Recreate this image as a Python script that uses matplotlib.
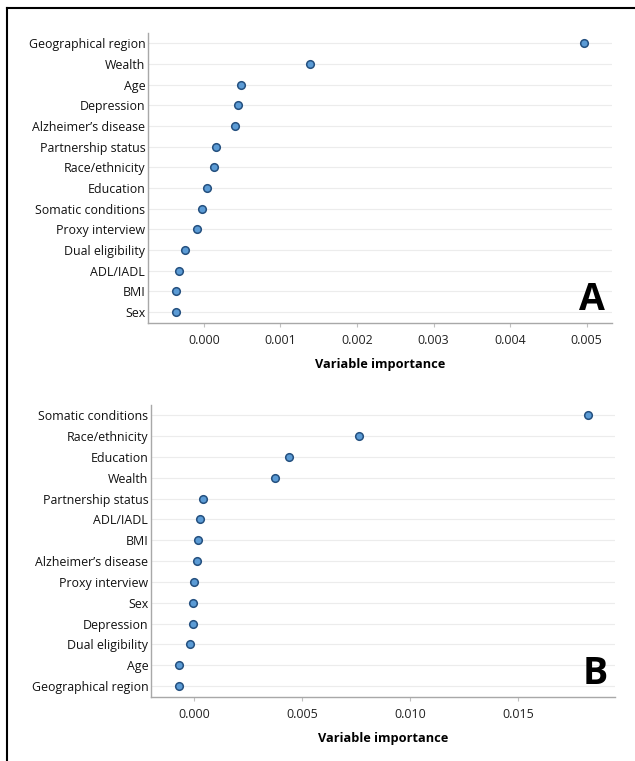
import matplotlib
matplotlib.use("Agg")
from matplotlib import pyplot as plt
from matplotlib.lines import Line2D

plt.rcParams["font.family"] = ["Open Sans", "DejaVu Sans"]

# panel A, listed top to bottom
labels_a = [
    "Geographical region", "Wealth", "Age", "Depression", "Alzheimer\u2019s disease",
    "Partnership status", "Race/ethnicity", "Education", "Somatic conditions",
    "Proxy interview", "Dual eligibility", "ADL/IADL", "BMI", "Sex",
]
values_a = [
    0.00496, 0.00138, 0.00049, 0.00045, 0.00041, 0.00016, 0.00013,
    0.00004, -0.00002, -0.00009, -0.00025, -0.00032, -0.00036, -0.00037,
]
ticks_a = [0.000, 0.001, 0.002, 0.003, 0.004, 0.005]

# panel B, listed top to bottom
labels_b = [
    "Somatic conditions", "Race/ethnicity", "Education", "Wealth",
    "Partnership status", "ADL/IADL", "BMI", "Alzheimer\u2019s disease",
    "Proxy interview", "Sex", "Depression", "Dual eligibility", "Age",
    "Geographical region",
]
values_b = [
    0.01824, 0.00764, 0.00440, 0.00375, 0.00042, 0.00028, 0.00019,
    0.00014, 0.00000, -0.00003, -0.00005, -0.00018, -0.00070, -0.00070,
]
ticks_b = [0.000, 0.005, 0.010, 0.015]


def draw_panel(ax, labels, values, ticks, xlim, letter):
    n = len(labels)
    ypos = list(range(n - 1, -1, -1))
    for y in ypos:
        ax.axhline(y, color="#ececec", linewidth=0.8, zorder=0)
    ax.scatter(values, ypos, s=30, color="#5b9bd5", edgecolors="#24507f",
               linewidths=1.1, zorder=3)
    ax.set_yticks(ypos)
    ax.set_yticklabels(labels, fontsize=8.9, color="#111111")
    ax.set_ylim(-0.53, n - 1 + 0.5)
    ax.set_xlim(*xlim)
    ax.set_xticks(ticks)
    ax.set_xticklabels([f"{t:.3f}" for t in ticks], fontsize=8.9, color="#222222")
    ax.tick_params(axis="y", length=0, pad=2)
    ax.tick_params(axis="x", length=3, direction="out", color="#c0c0c0", pad=5)
    for side in ("top", "right"):
        ax.spines[side].set_visible(False)
    for side in ("left", "bottom"):
        ax.spines[side].set_color("#a8a8a8")
        ax.spines[side].set_linewidth(1.0)
    ax.set_xlabel("Variable importance", fontsize=9.2, fontweight="bold", labelpad=8)
    ax.text(0.985, 0.015, letter, transform=ax.transAxes, ha="right", va="bottom",
            fontsize=27, fontweight="bold", color="black")


fig = plt.figure(figsize=(6.35, 7.61), dpi=100)

ax_a = fig.add_axes([0.2331, 0.5756, 0.7307, 0.3810])
draw_panel(ax_a, labels_a, values_a, ticks_a, (-0.00073, 0.00533), "A")

ax_b = fig.add_axes([0.2378, 0.0841, 0.7307, 0.3837])
draw_panel(ax_b, labels_b, values_b, ticks_b, (-0.00199, 0.0195), "B")

# frame around the figure (only top and left edges visible in the original)
fig.add_artist(Line2D([7 / 635, 1.0], [1 - 8 / 761, 1 - 8 / 761],
                      transform=fig.transFigure, color="black", linewidth=1.5))
fig.add_artist(Line2D([7 / 635, 7 / 635], [0.0, 1 - 8 / 761],
                      transform=fig.transFigure, color="black", linewidth=1.5))

fig.savefig("out.png", dpi=100)
